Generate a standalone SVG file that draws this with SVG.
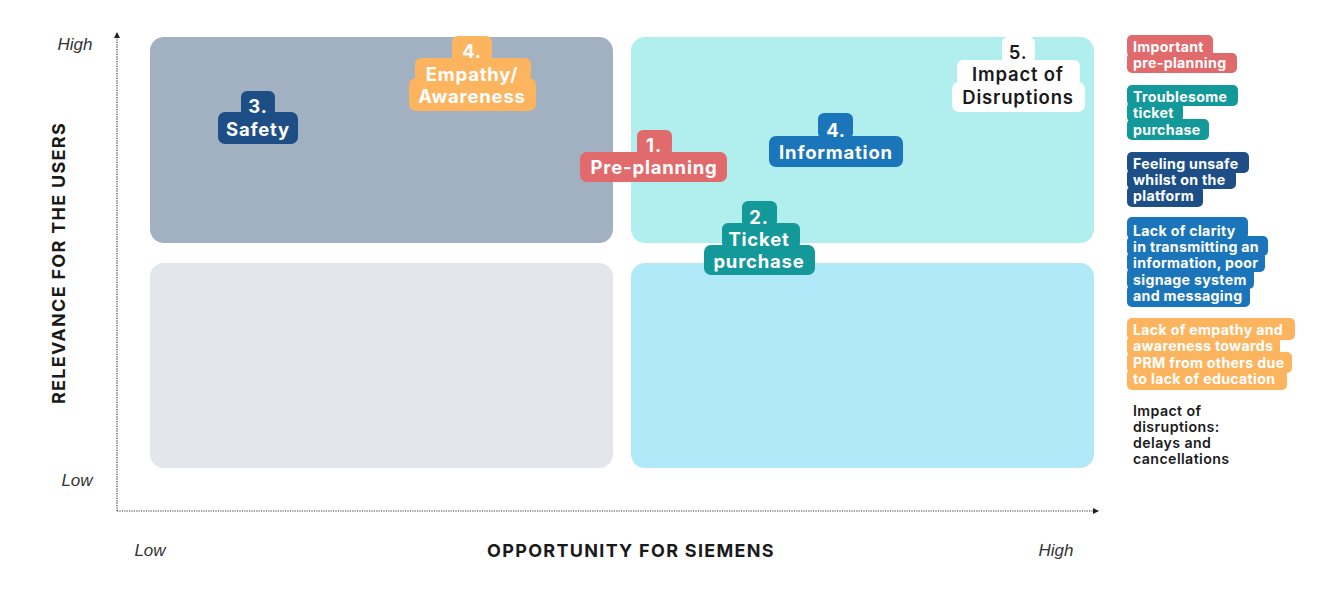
<svg xmlns="http://www.w3.org/2000/svg" width="1324" height="594" viewBox="0 0 1324 594">
<defs>
<marker id="arr" viewBox="0 0 6 6" refX="5" refY="3" markerWidth="6" markerHeight="6" orient="auto" markerUnits="userSpaceOnUse">
<path d="M0,0 L6,3 L0,6 Z" fill="#222"/>
</marker>
<style>
.ax{stroke:#333;stroke-width:1.2;stroke-dasharray:1.2 1.2;fill:none}
.it{font-family:"Liberation Sans",Arial,sans-serif;font-style:italic;font-size:17px;fill:#333}
.axt{font-family:Inter,"Noto Sans",sans-serif;font-weight:700;font-size:18px;fill:#1a1a1a;letter-spacing:1.3px}
.tg{font-family:Inter,"Noto Sans",sans-serif;font-weight:700;font-size:18.5px;fill:#fff;text-anchor:middle;letter-spacing:0.8px}
.lg{font-family:Inter,"Noto Sans",sans-serif;font-weight:700;font-size:14.2px;fill:#fff;letter-spacing:0.3px}
.lgd{font-family:Inter,"Noto Sans",sans-serif;font-weight:600;font-size:14.2px;fill:#1a1a1a;letter-spacing:0.4px}
.red{fill:#E06A6C}.teal{fill:#14999B}.dblue{fill:#1D4F86}.blue{fill:#1B75BB}.orange{fill:#FDB45F}.white{fill:#fff}
</style>
</defs>
<g id="quadrants">
<rect x="150" y="37" width="463" height="206" rx="14" fill="#A1B1C1"/>
<rect x="631" y="37" width="463" height="206" rx="14" fill="#B1EFEE"/>
<rect x="150" y="263" width="463" height="205" rx="14" fill="#E3E6EA"/>
<rect x="631" y="263" width="463" height="205" rx="14" fill="#B2E9F8"/>
</g>
<g id="connectors">
<line class="ax" x1="117" y1="511" x2="117" y2="33" marker-end="url(#arr)"/>
<line class="ax" x1="117" y1="511" x2="1098" y2="511" marker-end="url(#arr)"/>
</g>
<g id="axis-labels">
<text class="it" x="75" y="50" text-anchor="middle">High</text>
<text class="it" x="77" y="486" text-anchor="middle">Low</text>
<text class="it" x="150" y="556" text-anchor="middle">Low</text>
<text class="it" x="1056" y="556" text-anchor="middle">High</text>
<text class="axt" x="631" y="557" text-anchor="middle">OPPORTUNITY FOR SIEMENS</text>
<text class="axt" transform="translate(65,263) rotate(-90)" text-anchor="middle">RELEVANCE FOR THE USERS</text>
</g>
<g id="tag-safety">
<rect class="dblue" x="241" y="91" width="34" height="26" rx="6"/>
<rect class="dblue" x="218" y="112" width="80" height="32" rx="7"/>
<text class="tg" x="258" y="113">3.</text>
<text class="tg" x="258" y="136">Safety</text>
</g>
<g id="tag-empathy">
<rect class="orange" x="452" y="36" width="40" height="26" rx="6"/>
<rect class="orange" x="415" y="58" width="116" height="24" rx="6"/>
<rect class="orange" x="409" y="78" width="127" height="33" rx="7"/>
<text class="tg" x="472" y="58">4.</text>
<text class="tg" x="472" y="81">Empathy/</text>
<text class="tg" x="472" y="103">Awareness</text>
</g>
<g id="tag-preplanning">
<rect class="red" x="637" y="130" width="35" height="26" rx="6"/>
<rect class="red" x="580" y="152" width="147" height="30" rx="7"/>
<text class="tg" x="654" y="152">1.</text>
<text class="tg" x="654" y="174">Pre-planning</text>
</g>
<g id="tag-information">
<rect class="blue" x="818" y="113" width="35" height="26" rx="6"/>
<rect class="blue" x="769" y="136" width="134" height="31" rx="7"/>
<text class="tg" x="836" y="137">4.</text>
<text class="tg" x="836" y="159">Information</text>
</g>
<g id="tag-disruptions">
<rect class="white" x="1002" y="37" width="33" height="26" rx="6"/>
<rect class="white" x="957" y="60" width="123" height="26" rx="6"/>
<rect class="white" x="952" y="82" width="133" height="30" rx="7"/>
<text class="tg" x="1018" y="59" style="fill:#1a1a1a;font-weight:600">5.</text>
<text class="tg" x="1018" y="81" style="fill:#1a1a1a;font-weight:600">Impact of</text>
<text class="tg" x="1018" y="104" style="fill:#1a1a1a;font-weight:600">Disruptions</text>
</g>
<g id="tag-ticket">
<rect class="teal" x="742" y="201" width="35" height="26" rx="6"/>
<rect class="teal" x="722" y="223" width="78" height="26" rx="6"/>
<rect class="teal" x="704" y="245" width="111" height="30" rx="7"/>
<text class="tg" x="759" y="224">2.</text>
<text class="tg" x="759" y="246">Ticket</text>
<text class="tg" x="759" y="268">purchase</text>
</g>
<g id="legend-preplanning">
<rect class="red" x="1127" y="35" width="86" height="22" rx="5"/>
<rect class="red" x="1127" y="53" width="110" height="20" rx="5"/>
<text class="lg" x="1133" y="52">Important</text>
<text class="lg" x="1133" y="68">pre-planning</text>
</g>
<g id="legend-ticket">
<rect class="teal" x="1127" y="85" width="111" height="21" rx="5"/>
<rect class="teal" x="1127" y="102" width="56" height="20" rx="5"/>
<rect class="teal" x="1127" y="119" width="82" height="21" rx="5"/>
<text class="lg" x="1133" y="102">Troublesome</text>
<text class="lg" x="1133" y="118">ticket</text>
<text class="lg" x="1133" y="135">purchase</text>
</g>
<g id="legend-unsafe">
<rect class="dblue" x="1127" y="152" width="122" height="21" rx="5"/>
<rect class="dblue" x="1127" y="169" width="109" height="20" rx="5"/>
<rect class="dblue" x="1127" y="186" width="76" height="21" rx="5"/>
<text class="lg" x="1133" y="169">Feeling unsafe</text>
<text class="lg" x="1133" y="185">whilst on the</text>
<text class="lg" x="1133" y="201">platform</text>
</g>
<g id="legend-information">
<rect class="blue" x="1127" y="217" width="121" height="22" rx="5"/>
<rect class="blue" x="1127" y="236" width="141" height="20" rx="5"/>
<rect class="blue" x="1127" y="252" width="138" height="20" rx="5"/>
<rect class="blue" x="1127" y="268" width="127" height="21" rx="5"/>
<rect class="blue" x="1127" y="285" width="123" height="22" rx="5"/>
<text class="lg" x="1133" y="236">Lack of clarity</text>
<text class="lg" x="1133" y="252">in transmitting an</text>
<text class="lg" x="1133" y="268">information, poor</text>
<text class="lg" x="1133" y="285">signage system</text>
<text class="lg" x="1133" y="301">and messaging</text>
</g>
<g id="legend-empathy">
<rect class="orange" x="1127" y="318" width="168" height="22" rx="5"/>
<rect class="orange" x="1127" y="336" width="153" height="20" rx="5"/>
<rect class="orange" x="1127" y="352" width="165" height="21" rx="5"/>
<rect class="orange" x="1127" y="369" width="160" height="21" rx="5"/>
<text class="lg" x="1133" y="335">Lack of empathy and</text>
<text class="lg" x="1133" y="351">awareness towards</text>
<text class="lg" x="1133" y="368">PRM from others due</text>
<text class="lg" x="1133" y="384">to lack of education</text>
</g>
<g id="legend-disruptions">
<text class="lgd" x="1133" y="416">Impact of</text>
<text class="lgd" x="1133" y="432">disruptions:</text>
<text class="lgd" x="1133" y="448">delays and</text>
<text class="lgd" x="1133" y="464">cancellations</text>
</g>
</svg>
